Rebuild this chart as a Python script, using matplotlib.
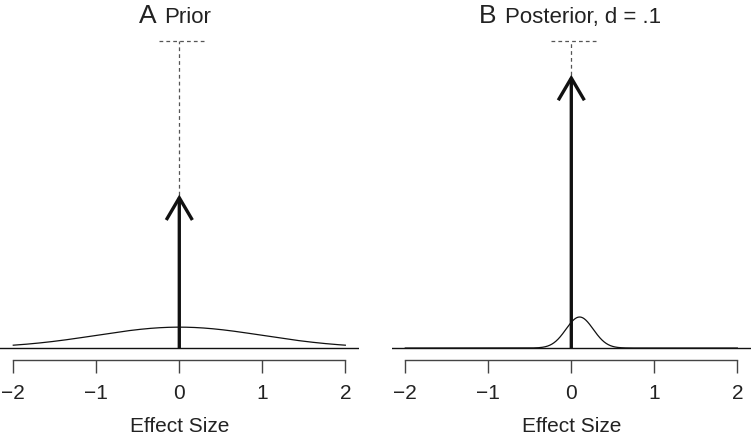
import numpy as np
import matplotlib
matplotlib.use("Agg")
import matplotlib.pyplot as plt

plt.rcParams['font.family'] = ['Liberation Sans', 'DejaVu Sans']

# ---- data ----
panel_letters = ["A", "B"]
panel_titles = ["Prior", "Posterior, d = .1"]
spike_heights = [0.5, 0.89]          # arrow (point mass at 0) heights, cap = 1
slab_means = [0.0, 0.1]
slab_sds = [1.0, 0.164]
slab_peaks = [0.068, 0.101]          # peak height of the slab curve
x_ticks = [-2, -1, 0, 1, 2]
x_tick_labels = ["\u22122", "\u22121", "0", "1", "2"]
x_label = "Effect Size"
cap_level = 1.0
cap_extent = [-0.25, 0.3]

W, H = 752, 436
fig = plt.figure(figsize=(W / 100, H / 100), dpi=100)

ax_left_px = [0, 392]
ax_w_px = 358.6
ax_bottom = (H - 360.3) / H
ax_top = (H - 28.7) / H

title_x_px = [(139, 164), (479, 505)]
title_base = (H - 23) / H

for i in range(2):
    ax = fig.add_axes([ax_left_px[i] / W, ax_bottom, ax_w_px / W, ax_top - ax_bottom])
    ax.set_xlim(-2.16, 2.16)
    ax.set_ylim(-0.04, 1.04)
    x = np.linspace(-2, 2, 801)
    y = slab_peaks[i] * np.exp(-0.5 * ((x - slab_means[i]) / slab_sds[i]) ** 2)
    ax.axhline(0, color='#111111', lw=1.0, zorder=1)
    ax.plot(x, y, color='#111111', lw=0.9, zorder=2)
    # dashed guide lines
    ax.plot([0, 0], [spike_heights[i], cap_level], color='#555555', lw=0.9,
            dashes=(3, 2.5), zorder=1)
    ax.plot(cap_extent, [cap_level, cap_level], color='#555555', lw=0.9,
            dashes=(3, 2.5), zorder=1)
    ax.plot(cap_extent, [0, 0], color='#888888', lw=0.6,
            dashes=(3, 2.5), zorder=0)
    # spike arrow
    ax.annotate("", xy=(0, spike_heights[i]), xytext=(0, 0),
                arrowprops=dict(arrowstyle='->,head_length=0.8,head_width=0.47',
                                lw=2.4, color='#111111', shrinkA=0, shrinkB=0,
                                mutation_scale=20, joinstyle='miter', capstyle='butt'),
                zorder=3)
    for s in ['top', 'right', 'left']:
        ax.spines[s].set_visible(False)
    ax.spines['bottom'].set_bounds(-2, 2)
    ax.spines['bottom'].set_color('#444444')
    ax.spines['bottom'].set_linewidth(1.0)
    ax.set_yticks([])
    ax.set_xticks(x_ticks)
    ax.set_xticklabels(x_tick_labels)
    ax.tick_params(axis='x', length=9, width=1.0, color='#444444', pad=8,
                   labelsize=15, labelcolor='#222222')
    ax.set_xlabel(x_label, fontsize=15, color='#222222', labelpad=10)
    ax.patch.set_alpha(0)

    fig.text(title_x_px[i][0] / W, title_base, panel_letters[i], fontsize=19,
             color='#222222', ha='left', va='baseline')
    fig.text(title_x_px[i][1] / W, title_base, panel_titles[i], fontsize=16,
             color='#222222', ha='left', va='baseline')

fig.savefig("out.png", dpi=100)
